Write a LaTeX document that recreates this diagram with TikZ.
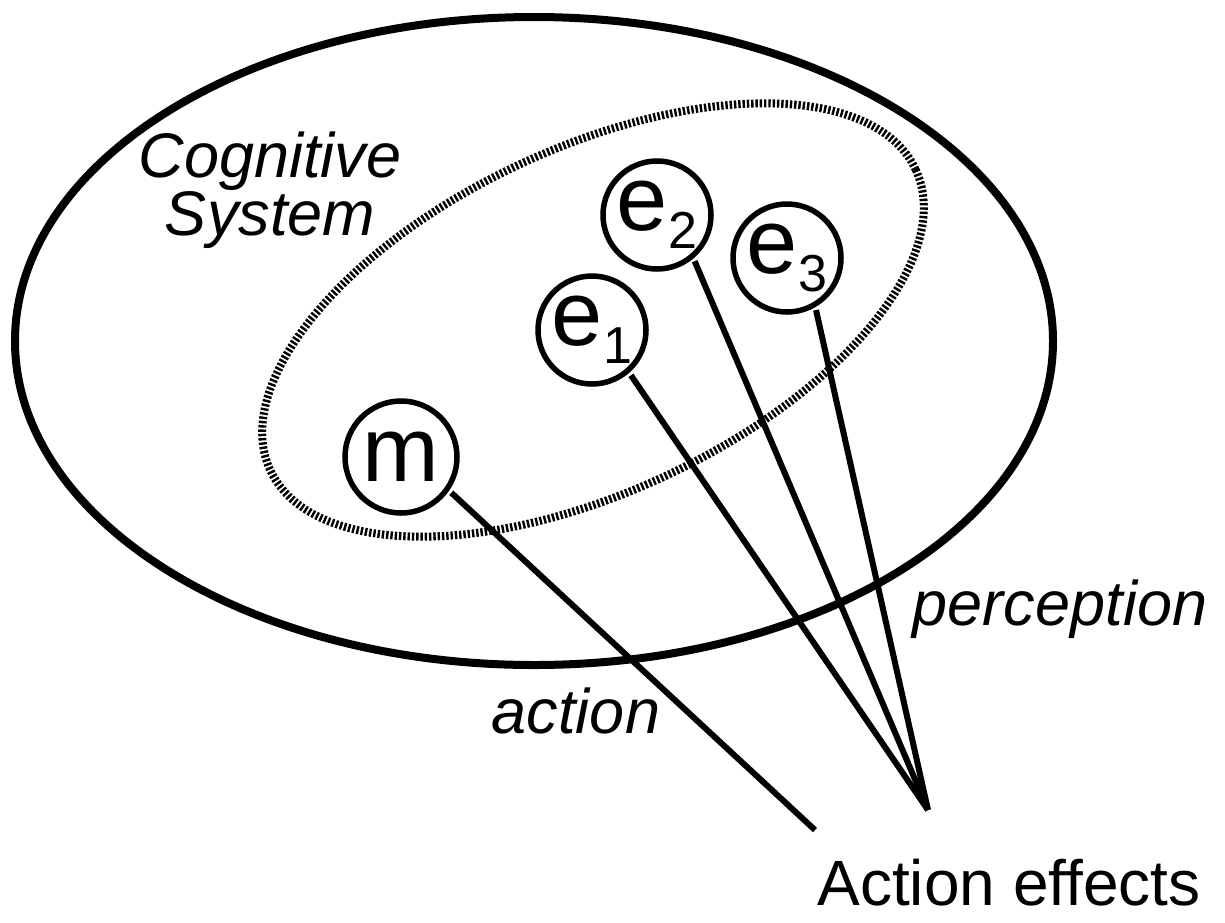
\documentclass[tikz,border=0pt]{standalone}
\usepackage{fontspec}
\setmainfont{Liberation Sans}
\newcommand{\esub}[1]{e\raisebox{-18pt}{\fontsize{52}{52}\selectfont #1}}
\begin{document}
\begin{tikzpicture}[x=1pt, y=-1pt,
        unit/.style={circle, draw, line width=5.5pt, minimum size=108pt, inner sep=0pt, font=\fontsize{92}{92}\selectfont},
        tag/.style={anchor=base, font=\fontsize{63}{51}\selectfont\itshape},
        ring/.style={line width=8pt, dash pattern=on 2.4pt off 1.9pt},
        link/.style={line width=6pt, shorten <=3pt}
    ]
    \useasboundingbox (0,0) rectangle (1225,922);

    % Cognitive system
    \draw[line width=8pt] (534,341) ellipse [x radius=519pt, y radius=324pt];
    \node[tag, align=center, anchor=center] (cs) at (270,190) {Cognitive\\System};

    % Event codes
    \draw[ring, rotate around={25:(593,320)}] (593,320) ellipse [x radius=356pt, y radius=172pt];
    \node[unit, minimum size=112pt] (m) at (401,457) {m};
    \node[unit] (e1) at (592,330) {\esub{1}};
    \node[unit] (e2) at (657,215) {\esub{2}};
    \node[unit] (e3) at (787,258) {\esub{3}};

    % Action effects
    \coordinate (act) at (815,830);
    \coordinate (eff) at (928,810);
    \node[anchor=base, font=\fontsize{64}{64}\selectfont] (ae) at (1009,905) {Action effects};

    \draw[link] (m.-35) -- (act);
    \draw[link] (e1.-49) -- (eff);
    \draw[link] (e2.-50) -- (eff);
    \draw[link] (e3.-60) -- (eff);

    \node[tag] (action) at (576,733) {action};
    \node[tag] (perception) at (1060,625) {perception};
\end{tikzpicture}
\end{document}
